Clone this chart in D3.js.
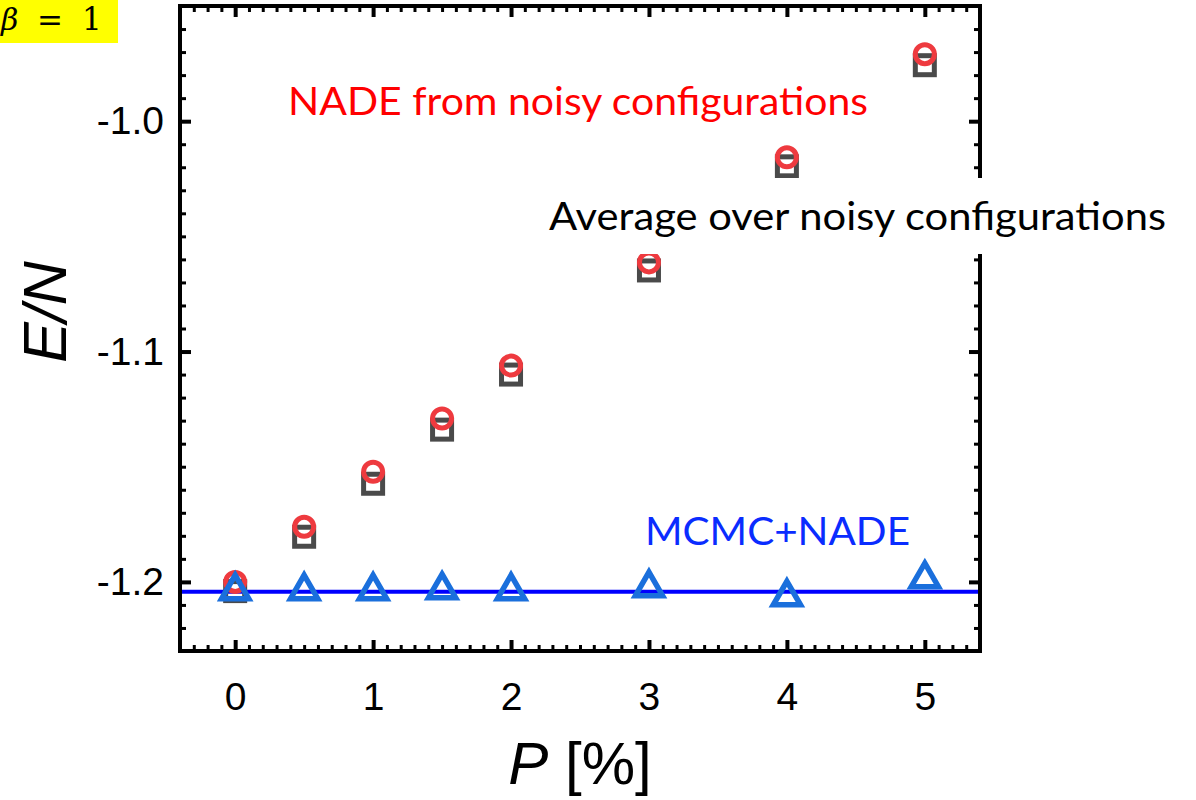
<!DOCTYPE html>
<html>
<head>
<meta charset="utf-8">
<script src="https://cdn.jsdelivr.net/npm/d3@7"></script>
<style>
  html, body { margin: 0; padding: 0; background: #ffffff; }
  svg { display: block; }
</style>
</head>
<body>
<svg id="chart" width="1196" height="800"></svg>
<script>
// Noise level P [%]
const noiseLevels = [0, 0.5, 1, 1.5, 2, 3, 4, 5];
// E/N from NADE trained on noisy configurations
const nadeNoisy = [-1.2000, -1.1761, -1.1522, -1.1291, -1.1061, -1.0613, -1.0157, -0.9709];
// E/N averaged directly over noisy configurations
const avgNoisy = [-1.2040, -1.1804, -1.1574, -1.1339, -1.1100, -1.0648, -1.0196, -0.9757];
// E/N from MCMC + NADE
const mcmcNade = [-1.2030, -1.2030, -1.2030, -1.2026, -1.2030, -1.2017, -1.2057, -1.1978];
// Exact reference energy (horizontal line)
const exactEnergy = -1.2043;

const xTickValues = [0, 1, 2, 3, 4, 5];
const yTickValues = [-1.2, -1.1, -1.0];

const svg = d3.select("#chart");
const plotLeft = 180, plotRight = 980, plotTop = 6, plotBottom = 651;

const x = d3.scaleLinear().domain([-0.4, 5.4]).range([plotLeft, plotRight]);
const y = d3.scaleLinear().domain([-1.23, -0.95]).range([plotBottom, plotTop]);

const xMinor = d3.range(-3, 54).map(i => i / 10).filter(v => !xTickValues.some(t => Math.abs(t - v) < 1e-9));
const yMinor = d3.range(-122, -95).map(i => i / 100).filter(v => !yTickValues.some(t => Math.abs(t - v) < 1e-9));

const tickFont = "'Liberation Sans', Arial, sans-serif";

function styleAxis(g, width) {
  g.select(".domain").remove();
  g.selectAll(".tick line").attr("stroke", "#000").attr("stroke-width", width);
  g.selectAll(".tick text").attr("fill", "#000").style("font-family", tickFont).style("font-size", "39px");
}

// minor ticks on all four sides
svg.append("g").attr("transform", `translate(0,${plotBottom})`)
  .call(d3.axisBottom(x).tickValues(xMinor).tickSize(-6).tickFormat(""))
  .call(g => styleAxis(g, 3));
svg.append("g").attr("transform", `translate(0,${plotTop})`)
  .call(d3.axisTop(x).tickValues(xMinor).tickSize(-6).tickFormat(""))
  .call(g => styleAxis(g, 3));
svg.append("g").attr("transform", `translate(${plotLeft},0)`)
  .call(d3.axisLeft(y).tickValues(yMinor).tickSize(-6).tickFormat(""))
  .call(g => styleAxis(g, 3));
svg.append("g").attr("transform", `translate(${plotRight},0)`)
  .call(d3.axisRight(y).tickValues(yMinor).tickSize(-6).tickFormat(""))
  .call(g => styleAxis(g, 3));

// major ticks with labels
svg.append("g").attr("transform", `translate(0,${plotBottom})`)
  .call(d3.axisBottom(x).tickValues(xTickValues).tickSize(-11).tickPadding(31).tickFormat(d => String(d)))
  .call(g => styleAxis(g, 4));
svg.append("g").attr("transform", `translate(0,${plotTop})`)
  .call(d3.axisTop(x).tickValues(xTickValues).tickSize(-11).tickFormat(""))
  .call(g => styleAxis(g, 4));
svg.append("g").attr("transform", `translate(${plotLeft},0)`)
  .call(d3.axisLeft(y).tickValues(yTickValues).tickSize(-11).tickPadding(16).tickFormat(d => d.toFixed(1)))
  .call(g => styleAxis(g, 4));
svg.append("g").attr("transform", `translate(${plotRight},0)`)
  .call(d3.axisRight(y).tickValues(yTickValues).tickSize(-11).tickFormat(""))
  .call(g => styleAxis(g, 4));

// plot frame
svg.append("rect")
  .attr("x", plotLeft).attr("y", plotTop)
  .attr("width", plotRight - plotLeft).attr("height", plotBottom - plotTop)
  .attr("fill", "none").attr("stroke", "#000").attr("stroke-width", 4);

// exact energy line
svg.append("line")
  .attr("x1", plotLeft + 2).attr("x2", plotRight - 2)
  .attr("y1", y(exactEnergy)).attr("y2", y(exactEnergy))
  .attr("stroke", "#0000ff").attr("stroke-width", 4);

const pts = (vals) => noiseLevels.map((p, i) => ({ p, v: vals[i] }));

// averaged over noisy configurations: hollow squares
const sq = 19;
svg.append("g").selectAll("rect").data(pts(avgNoisy)).join("rect")
  .attr("x", d => x(d.p) - sq / 2).attr("y", d => y(d.v) - sq / 2)
  .attr("width", sq).attr("height", sq)
  .attr("fill", "none").attr("stroke", "#4a4a4a").attr("stroke-width", 5);

// NADE from noisy configurations: hollow circles
svg.append("g").selectAll("circle").data(pts(nadeNoisy)).join("circle")
  .attr("cx", d => x(d.p)).attr("cy", d => y(d.v)).attr("r", 9.5)
  .attr("fill", "none").attr("stroke", "#ee3a3f").attr("stroke-width", 5);

// MCMC + NADE: hollow triangles
const tri = d3.symbol().type(d3.symbolTriangle).size(320);
svg.append("g").selectAll("path").data(pts(mcmcNade)).join("path")
  .attr("transform", d => `translate(${x(d.p)},${y(d.v) + 2})`)
  .attr("d", tri)
  .attr("fill", "none").attr("stroke", "#1a6fdc").attr("stroke-width", 5.5)
  .attr("stroke-linejoin", "miter");

// axis titles
svg.append("text")
  .attr("transform", "translate(66,312) rotate(-90)")
  .attr("text-anchor", "middle")
  .style("font-family", tickFont).style("font-size", "61px").style("font-style", "italic")
  .text("E/N");

const xTitle = svg.append("text")
  .attr("x", 580).attr("y", 784)
  .attr("text-anchor", "middle")
  .style("font-family", tickFont).style("font-size", "60px");
xTitle.append("tspan").style("font-style", "italic").text("P");
xTitle.append("tspan").text(" [%]");

// series annotations
const noteFont = "Lato, 'Open Sans', sans-serif";
svg.append("text")
  .attr("x", 288).attr("y", 115)
  .attr("textLength", 580).attr("lengthAdjust", "spacingAndGlyphs")
  .style("font-family", noteFont).style("font-size", "38px").attr("fill", "#ff0000")
  .text("NADE from noisy configurations");

svg.append("rect")
  .attr("x", 540).attr("y", 178).attr("width", 640).attr("height", 76)
  .attr("fill", "#ffffff");
svg.append("text")
  .attr("x", 549).attr("y", 230)
  .attr("textLength", 617).attr("lengthAdjust", "spacingAndGlyphs")
  .style("font-family", noteFont).style("font-size", "38px").attr("fill", "#000000")
  .text("Average over noisy configurations");

svg.append("text")
  .attr("x", 645).attr("y", 545)
  .attr("textLength", 265).attr("lengthAdjust", "spacingAndGlyphs")
  .style("font-family", noteFont).style("font-size", "38px").attr("fill", "#0a2cff")
  .text("MCMC+NADE");

// inverse temperature badge
svg.append("rect").attr("x", 0).attr("y", 0).attr("width", 118).attr("height", 43).attr("fill", "#ffff00");
const serif = "'DejaVu Serif', 'Liberation Serif', serif";
svg.append("text").attr("x", 1).attr("y", 30)
  .style("font-family", serif).style("font-size", "30px").style("font-style", "italic")
  .text("β");
svg.append("text").attr("x", 37).attr("y", 31)
  .style("font-family", serif).style("font-size", "31px")
  .text("=");
svg.append("text").attr("x", 82).attr("y", 30)
  .style("font-family", serif).style("font-size", "31px")
  .text("1");
</script>
</body>
</html>
